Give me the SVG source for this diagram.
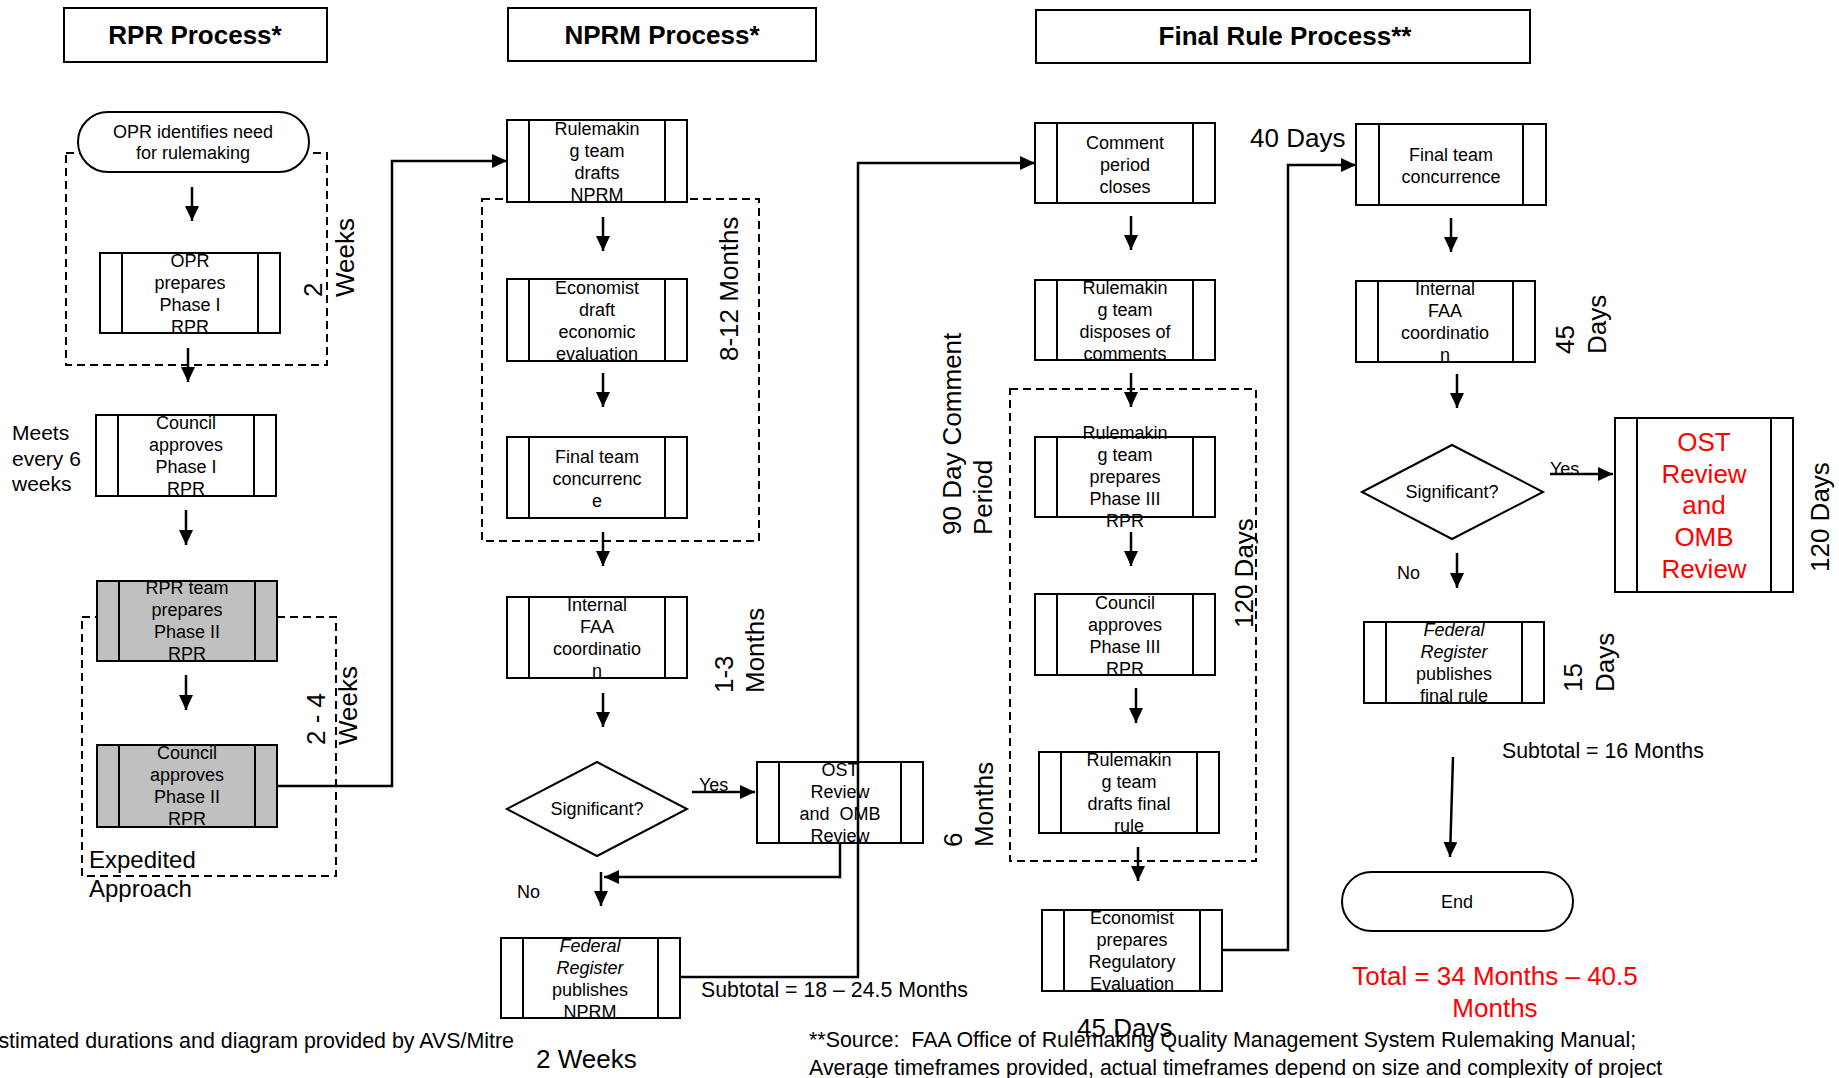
<svg xmlns="http://www.w3.org/2000/svg" width="1839" height="1078" viewBox="0 0 1839 1078">
<defs>
<style>
.box{fill:#fff;stroke:#000;stroke-width:2}
.gray{fill:#C0C0C0}
.div{fill:none;stroke:#000;stroke-width:2}
.dash{fill:none;stroke:#000;stroke-width:2;stroke-dasharray:8 5}
.conn{fill:none;stroke:#000;stroke-width:2.5;marker-end:url(#ah)}
text{font-family:"Liberation Sans",Arial,sans-serif;fill:#000}
.t18{font-size:18px;text-anchor:middle}
.s18{font-size:18px}
.title{font-size:26px;font-weight:bold;text-anchor:middle}
.lbl{font-size:26px}
.s21{font-size:21.3px}
.red{fill:#FF0000}
.it{font-style:italic}
.pre{white-space:pre}
</style>
<marker id="ah" markerUnits="userSpaceOnUse" markerWidth="15" markerHeight="14" refX="15" refY="7" orient="auto"><path d="M0,0 L15,7 L0,14 z" fill="#000"/></marker>
</defs>
<rect width="1839" height="1078" fill="#fff"/>

<g id="groups">
<rect class="dash" x="66" y="153" width="261" height="212"/>
<rect class="dash" x="82" y="617" width="254" height="259"/>
<rect class="dash" x="482" y="199" width="277" height="342"/>
<rect class="dash" x="1010" y="389" width="246" height="472"/>
</g>

<g id="titles">
<g id="t-rpr"><rect class="box" x="64" y="8" width="263" height="54"/><text class="title" x="195" y="44">RPR Process*</text></g>
<g id="t-nprm"><rect class="box" x="508" y="8" width="308" height="53"/><text class="title" x="662" y="44">NPRM Process*</text></g>
<g id="t-final"><rect class="box" x="1036" y="10" width="494" height="53"/><text class="title" x="1285" y="45">Final Rule Process**</text></g>
</g>

<g id="n-opr-identifies"><rect class="box" x="78" y="112" width="231" height="60" rx="30" ry="30"/><text class="t18"><tspan x="193" y="138">OPR identifies need</tspan><tspan x="193" y="159">for rulemaking</tspan></text></g>
<g id="n-opr-prepares"><rect class="box" x="100" y="253" width="180" height="80"/><path class="div" d="M122,253V333M258,253V333"/><text class="t18"><tspan x="190" y="267">OPR</tspan><tspan x="190" y="289">prepares</tspan><tspan x="190" y="311">Phase I</tspan><tspan x="190" y="333">RPR</tspan></text></g>
<g id="n-council-1"><rect class="box" x="96" y="415" width="180" height="81"/><path class="div" d="M118,415V496M254,415V496"/><text class="t18"><tspan x="186" y="429">Council</tspan><tspan x="186" y="451">approves</tspan><tspan x="186" y="473">Phase I</tspan><tspan x="186" y="495">RPR</tspan></text></g>
<g id="n-rpr-team"><rect class="box gray" x="97" y="581" width="180" height="80"/><path class="div" d="M119,581V661M255,581V661"/><text class="t18"><tspan x="187" y="594">RPR team</tspan><tspan x="187" y="616">prepares</tspan><tspan x="187" y="638">Phase II</tspan><tspan x="187" y="660">RPR</tspan></text></g>
<g id="n-council-2"><rect class="box gray" x="97" y="745" width="180" height="82"/><path class="div" d="M119,745V827M255,745V827"/><text class="t18"><tspan x="187" y="759">Council</tspan><tspan x="187" y="781">approves</tspan><tspan x="187" y="803">Phase II</tspan><tspan x="187" y="825">RPR</tspan></text></g>

<g id="n-rm-drafts"><rect class="box" x="507" y="120" width="180" height="82"/><path class="div" d="M529,120V202M665,120V202"/><text class="t18"><tspan x="597" y="135">Rulemakin</tspan><tspan x="597" y="157">g team</tspan><tspan x="597" y="179">drafts</tspan><tspan x="597" y="201">NPRM</tspan></text></g>
<g id="n-econ-draft"><rect class="box" x="507" y="279" width="180" height="82"/><path class="div" d="M529,279V361M665,279V361"/><text class="t18"><tspan x="597" y="294">Economist</tspan><tspan x="597" y="316">draft</tspan><tspan x="597" y="338">economic</tspan><tspan x="597" y="360">evaluation</tspan></text></g>
<g id="n-final-team-1"><rect class="box" x="507" y="437" width="180" height="81"/><path class="div" d="M529,437V518M665,437V518"/><text class="t18"><tspan x="597" y="463">Final team</tspan><tspan x="597" y="485">concurrenc</tspan><tspan x="597" y="507">e</tspan></text></g>
<g id="n-internal-1"><rect class="box" x="507" y="597" width="180" height="81"/><path class="div" d="M529,597V678M665,597V678"/><text class="t18"><tspan x="597" y="611">Internal</tspan><tspan x="597" y="633">FAA</tspan><tspan x="597" y="655">coordinatio</tspan><tspan x="597" y="677">n</tspan></text></g>
<g id="n-sig-1"><polygon class="box" points="507,809 597,762 687,809 597,856"/><text class="t18" x="597" y="815">Significant?</text></g>
<g id="n-ost-1"><rect class="box" x="757" y="762" width="166" height="81"/><path class="div" d="M779,762V843M901,762V843"/><text class="t18 pre"><tspan x="840" y="776">OST</tspan><tspan x="840" y="798">Review</tspan><tspan x="840" y="820">and  OMB</tspan><tspan x="840" y="842">Review</tspan></text></g>
<g id="n-fed-1"><rect class="box" x="501" y="938" width="179" height="80"/><path class="div" d="M523,938V1018M658,938V1018"/><text class="t18"><tspan class="it" x="590" y="952">Federal</tspan><tspan class="it" x="590" y="974">Register</tspan><tspan x="590" y="996">publishes</tspan><tspan x="590" y="1018">NPRM</tspan></text></g>

<g id="n-comment-closes"><rect class="box" x="1035" y="123" width="180" height="80"/><path class="div" d="M1057,123V203M1193,123V203"/><text class="t18"><tspan x="1125" y="149">Comment</tspan><tspan x="1125" y="171">period</tspan><tspan x="1125" y="193">closes</tspan></text></g>
<g id="n-disposes"><rect class="box" x="1035" y="280" width="180" height="80"/><path class="div" d="M1057,280V360M1193,280V360"/><text class="t18"><tspan x="1125" y="294">Rulemakin</tspan><tspan x="1125" y="316">g team</tspan><tspan x="1125" y="338">disposes of</tspan><tspan x="1125" y="360">comments</tspan></text></g>
<g id="n-phase3"><rect class="box" x="1035" y="437" width="180" height="80"/><path class="div" d="M1057,437V517M1193,437V517"/><text class="t18"><tspan x="1125" y="439">Rulemakin</tspan><tspan x="1125" y="461">g team</tspan><tspan x="1125" y="483">prepares</tspan><tspan x="1125" y="505">Phase III</tspan><tspan x="1125" y="527">RPR</tspan></text></g>
<g id="n-council-3"><rect class="box" x="1035" y="594" width="180" height="81"/><path class="div" d="M1057,594V675M1193,594V675"/><text class="t18"><tspan x="1125" y="609">Council</tspan><tspan x="1125" y="631">approves</tspan><tspan x="1125" y="653">Phase III</tspan><tspan x="1125" y="675">RPR</tspan></text></g>
<g id="n-drafts-final"><rect class="box" x="1039" y="752" width="180" height="81"/><path class="div" d="M1061,752V833M1197,752V833"/><text class="t18"><tspan x="1129" y="766">Rulemakin</tspan><tspan x="1129" y="788">g team</tspan><tspan x="1129" y="810">drafts final</tspan><tspan x="1129" y="832">rule</tspan></text></g>
<g id="n-econ-prep"><rect class="box" x="1042" y="910" width="180" height="81"/><path class="div" d="M1064,910V991M1200,910V991"/><text class="t18"><tspan x="1132" y="924">Economist</tspan><tspan x="1132" y="946">prepares</tspan><tspan x="1132" y="968">Regulatory</tspan><tspan x="1132" y="990">Evaluation</tspan></text></g>
<g id="n-final-team-2"><rect class="box" x="1356" y="124" width="190" height="81"/><path class="div" d="M1379,124V205M1523,124V205"/><text class="t18"><tspan x="1451" y="161">Final team</tspan><tspan x="1451" y="183">concurrence</tspan></text></g>
<g id="n-internal-2"><rect class="box" x="1356" y="281" width="179" height="81"/><path class="div" d="M1378,281V362M1513,281V362"/><text class="t18"><tspan x="1445" y="295">Internal</tspan><tspan x="1445" y="317">FAA</tspan><tspan x="1445" y="339">coordinatio</tspan><tspan x="1445" y="361">n</tspan></text></g>
<g id="n-sig-2"><polygon class="box" points="1362,492 1452,445 1543,492 1452,539"/><text class="t18" x="1452" y="498">Significant?</text></g>
<g id="n-ost-2"><rect class="box" x="1615" y="418" width="178" height="174"/><path class="div" d="M1637,418V592M1771,418V592"/><text class="lbl red" text-anchor="middle"><tspan x="1704" y="451">OST</tspan><tspan x="1704" y="483">Review</tspan><tspan x="1704" y="514">and</tspan><tspan x="1704" y="546">OMB</tspan><tspan x="1704" y="578">Review</tspan></text></g>
<g id="n-fed-2"><rect class="box" x="1364" y="622" width="180" height="81"/><path class="div" d="M1386,622V703M1522,622V703"/><text class="t18"><tspan class="it" x="1454" y="636">Federal</tspan><tspan class="it" x="1454" y="658">Register</tspan><tspan x="1454" y="680">publishes</tspan><tspan x="1454" y="702">final rule</tspan></text></g>
<g id="n-end"><rect class="box" x="1342" y="872" width="231" height="59" rx="29.5" ry="29.5"/><text class="t18" x="1457" y="908">End</text></g>

<g id="connectors">
<path class="conn" d="M192,187V221"/>
<path class="conn" d="M188,348V382"/>
<path class="conn" d="M186,510V545"/>
<path class="conn" d="M186,675V710"/>
<path class="conn" d="M277,786H392V161H507"/>
<path class="conn" d="M603,217V251"/>
<path class="conn" d="M603,373V407"/>
<path class="conn" d="M603,532V566"/>
<path class="conn" d="M603,693V727"/>
<path class="conn" d="M692,792H755"/>
<path class="conn" d="M840,843V877H604"/>
<path class="conn" d="M601,872V906"/>
<path class="conn" d="M680,977H858V163H1035"/>
<path class="conn" d="M1131,216V250"/>
<path class="conn" d="M1131,373V407"/>
<path class="conn" d="M1131,532V566"/>
<path class="conn" d="M1136,688V723"/>
<path class="conn" d="M1138,847V881"/>
<path class="conn" d="M1222,950H1288V165H1356"/>
<path class="conn" d="M1451,218V252"/>
<path class="conn" d="M1457,374V408"/>
<path class="conn" d="M1550,474H1613"/>
<path class="conn" d="M1457,553V588"/>
<path class="conn" d="M1453,757L1450,857"/>
</g>

<g id="labels">
<text class="s18" x="699" y="791">Yes</text>
<text class="s18" x="517" y="898">No</text>
<text class="s18" x="1550" y="475">Yes</text>
<text class="s18" x="1397" y="579">No</text>
<text style="font-size:21px"><tspan x="12" y="440">Meets</tspan><tspan x="12" y="466">every 6</tspan><tspan x="12" y="491">weeks</tspan></text>
<text style="font-size:24px"><tspan x="89" y="868">Expedited</tspan><tspan x="89" y="897">Approach</tspan></text>
<text class="s21" x="701" y="997">Subtotal = 18 – 24.5 Months</text>
<text class="lbl" x="536" y="1068">2 Weeks</text>
<text style="font-size:21.4px" x="514" y="1048" text-anchor="end">stimated durations and diagram provided by AVS/Mitre</text>
<text class="pre" style="font-size:21.4px"><tspan x="809" y="1047">**Source:  FAA Office of Rulemaking Quality Management System Rulemaking Manual;</tspan><tspan x="809" y="1075">Average timeframes provided, actual timeframes depend on size and complexity of project</tspan></text>
<text class="lbl" x="1077" y="1037">45 Days</text>
<text class="lbl" x="1250" y="147">40 Days</text>
<text class="s21" x="1502" y="758">Subtotal = 16 Months</text>
<text class="lbl red" text-anchor="middle"><tspan x="1495" y="985">Total = 34 Months – 40.5</tspan><tspan x="1495" y="1017">Months</tspan></text>
<text class="lbl" transform="translate(322,297) rotate(-90)"><tspan x="0" y="0">2</tspan><tspan x="0" y="32">Weeks</tspan></text>
<text class="lbl pre" transform="translate(325,745) rotate(-90)"><tspan x="0" y="0">2 - 4</tspan><tspan x="0" y="32">Weeks</tspan></text>
<text class="lbl" transform="translate(738,361) rotate(-90)">8-12 Months</text>
<text class="lbl" transform="translate(733,693) rotate(-90)"><tspan x="0" y="0">1-3</tspan><tspan x="0" y="31">Months</tspan></text>
<text class="lbl" transform="translate(961,535) rotate(-90)"><tspan x="0" y="0">90 Day Comment</tspan><tspan x="0" y="31">Period</tspan></text>
<text class="lbl" transform="translate(962,847) rotate(-90)"><tspan x="0" y="0">6</tspan><tspan x="0" y="31">Months</tspan></text>
<text class="lbl" transform="translate(1253,628) rotate(-90)">120 Days</text>
<text class="lbl" transform="translate(1574,354) rotate(-90)"><tspan x="0" y="0">45</tspan><tspan x="0" y="32">Days</tspan></text>
<text class="lbl" transform="translate(1829,572) rotate(-90)">120 Days</text>
<text class="lbl" transform="translate(1582,692) rotate(-90)"><tspan x="0" y="0">15</tspan><tspan x="0" y="32">Days</tspan></text>
</g>
</svg>
